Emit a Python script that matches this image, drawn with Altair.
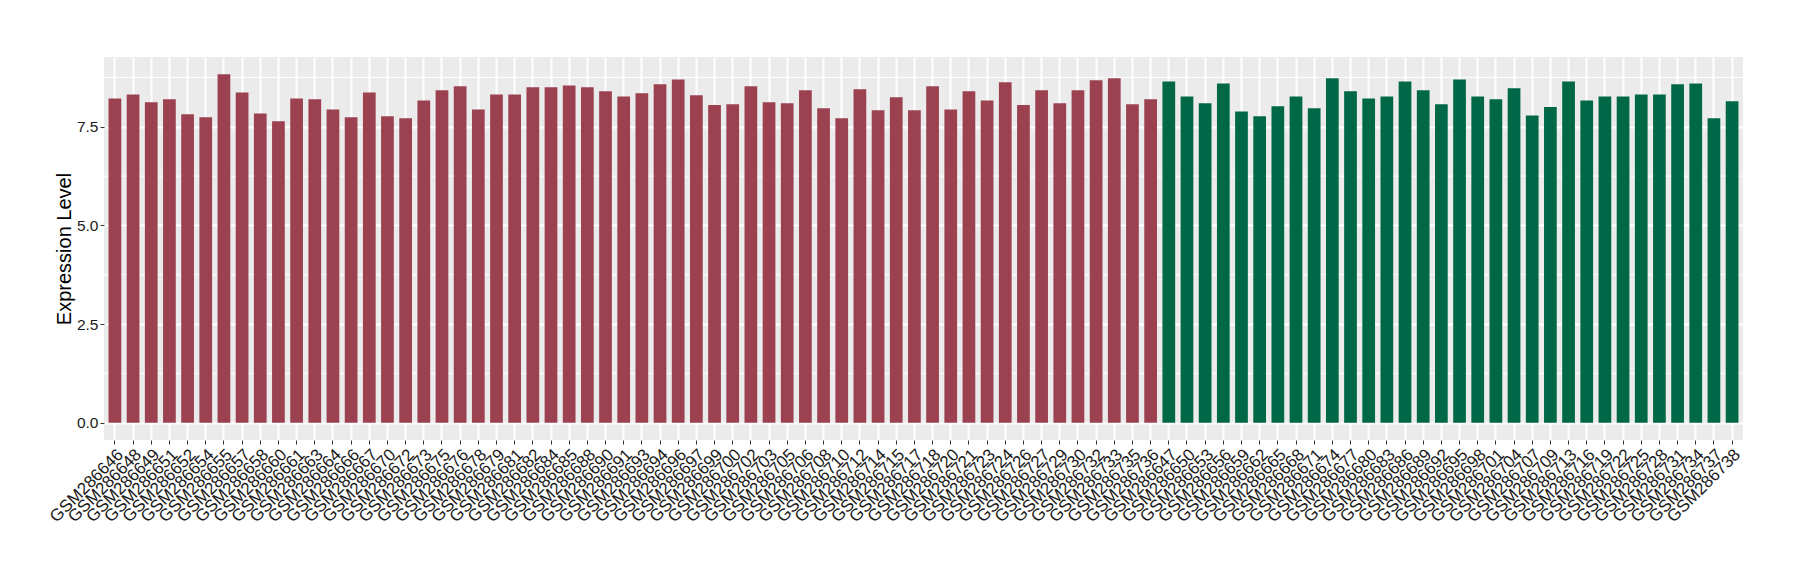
import altair as alt
import pandas as pd

red_samples = ["GSM286646", "GSM286648", "GSM286649", "GSM286651", "GSM286652", "GSM286654", "GSM286655", "GSM286657", "GSM286658", "GSM286660",
               "GSM286661", "GSM286663", "GSM286664", "GSM286666", "GSM286667", "GSM286670", "GSM286672", "GSM286673", "GSM286675", "GSM286676",
               "GSM286678", "GSM286679", "GSM286681", "GSM286682", "GSM286684", "GSM286685", "GSM286688", "GSM286690", "GSM286691", "GSM286693",
               "GSM286694", "GSM286696", "GSM286697", "GSM286699", "GSM286700", "GSM286702", "GSM286703", "GSM286705", "GSM286706", "GSM286708",
               "GSM286710", "GSM286712", "GSM286714", "GSM286715", "GSM286717", "GSM286718", "GSM286720", "GSM286721", "GSM286723", "GSM286724",
               "GSM286726", "GSM286727", "GSM286729", "GSM286730", "GSM286732", "GSM286733", "GSM286735", "GSM286736"]
red_values = [8.22, 8.32, 8.12, 8.20, 7.82, 7.74, 8.83, 8.37, 7.84, 7.64,
              8.22, 8.20, 7.94, 7.74, 8.37, 7.77, 7.72, 8.17, 8.43, 8.53,
              7.94, 8.32, 8.32, 8.50, 8.50, 8.55, 8.50, 8.40, 8.27, 8.35,
              8.58, 8.70, 8.30, 8.05, 8.07, 8.53, 8.12, 8.10, 8.43, 7.97,
              7.72, 8.45, 7.92, 8.25, 7.92, 8.53, 7.94, 8.40, 8.17, 8.63,
              8.05, 8.43, 8.10, 8.43, 8.68, 8.73, 8.07, 8.20]

green_samples = ["GSM286647", "GSM286650", "GSM286653", "GSM286656", "GSM286659", "GSM286662", "GSM286665", "GSM286668", "GSM286671", "GSM286674",
                 "GSM286677", "GSM286680", "GSM286683", "GSM286686", "GSM286689", "GSM286692", "GSM286695", "GSM286698", "GSM286701", "GSM286704",
                 "GSM286707", "GSM286709", "GSM286713", "GSM286716", "GSM286719", "GSM286722", "GSM286725", "GSM286728", "GSM286731", "GSM286734",
                 "GSM286737", "GSM286738"]
green_values = [8.65, 8.27, 8.10, 8.60, 7.89, 7.77, 8.02, 8.27, 7.97, 8.73,
                8.40, 8.22, 8.27, 8.65, 8.43, 8.07, 8.70, 8.27, 8.20, 8.48,
                7.79, 8.00, 8.65, 8.17, 8.27, 8.27, 8.32, 8.32, 8.58, 8.60,
                7.72, 8.15]

y_ticks = [0, 2.5, 5.0, 7.5]
y_minor = [1.25, 3.75, 6.25, 8.75]

samples = red_samples + green_samples
df = pd.DataFrame({
    "sample": samples,
    "value": red_values + green_values,
    "group": ["A"] * len(red_samples) + ["B"] * len(green_samples),
})
minor_df = pd.DataFrame({"y": y_minor})

y_scale = alt.Scale(domain=[-0.44, 9.27], nice=False, zero=False)

minor = alt.Chart(minor_df).mark_rule(color="white", strokeWidth=1).encode(
    y=alt.Y("y:Q", scale=y_scale)
)

bars = alt.Chart(df).mark_bar().encode(
    x=alt.X("sample:N", sort=samples,
            scale=alt.Scale(paddingInner=0.3, paddingOuter=0.25),
            axis=alt.Axis(title=None, labelAngle=-45, labelAlign="right", labelBaseline="top",
                          labelFontSize=17, labelColor="#1a1a1a", labelFont="Liberation Sans",
                          tickColor="#333333", tickSize=4, tickWidth=1, labelPadding=2,
                          domain=False, grid=True, gridColor="white", gridWidth=2,
                          bandPosition=0.5, labelOverlap=False)),
    y=alt.Y("value:Q", scale=y_scale,
            axis=alt.Axis(title="Expression Level", values=y_ticks, format=".1f",
                          titleFontSize=20, titleFont="Liberation Sans", titleFontWeight="normal",
                          titleColor="black", titlePadding=2,
                          labelFontSize=15.5, labelColor="#1a1a1a", labelFont="Liberation Sans",
                          tickColor="#333333", tickSize=4, tickWidth=1, labelPadding=2,
                          domain=False, grid=True, gridColor="white", gridWidth=2)),
    color=alt.Color("group:N", scale=alt.Scale(domain=["A", "B"], range=["#9B4150", "#006847"]),
                    legend=None),
)

chart = alt.layer(minor, bars).properties(
    width=1639, height=383,
    autosize=alt.AutoSizeParams(type="none"),
    padding={"left": 96, "top": 49, "right": 49, "bottom": 132},
    background="white",
).configure_view(fill="#EBEBEB", stroke=None)

chart.save("out.html", embed_options={"renderer": "svg", "actions": False})
